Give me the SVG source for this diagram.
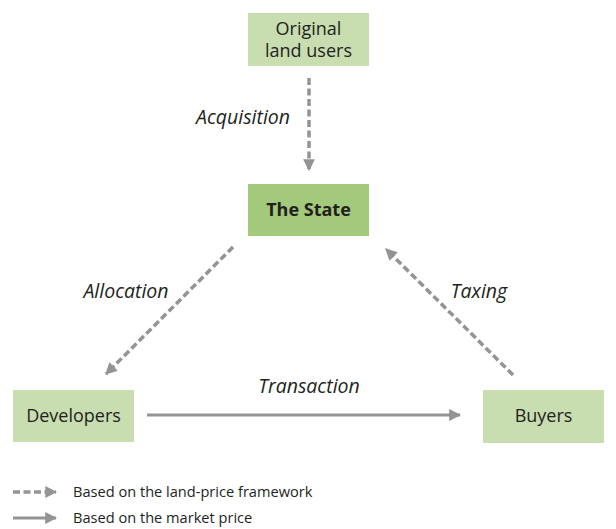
<svg xmlns="http://www.w3.org/2000/svg" width="616" height="529" viewBox="0 0 616 529">
  <style>
    .box { fill: #c8ddb0; }
    .state { fill: #a3c97a; }
    .lbl { font-family: "Open Sans", "Noto Sans", sans-serif; font-size: 18px; fill: #231f20; text-anchor: middle; }
    .it { font-family: "Open Sans", "Noto Sans", sans-serif; font-size: 19.5px; font-style: italic; fill: #231f20; text-anchor: middle; }
    .leg { font-family: "Open Sans", "Noto Sans", sans-serif; font-size: 14.6px; fill: #231f20; }
    .dash { stroke: #949494; stroke-width: 3.5; stroke-dasharray: 7 3.5; fill: none; }
    .solid { stroke: #949494; stroke-width: 3; fill: none; }
  </style>
  <defs>
    <marker id="ah" viewBox="0 0 10 10" refX="9" refY="5" markerWidth="3.4" markerHeight="3.4" markerUnits="strokeWidth" orient="auto">
      <path d="M0,0 L10,5 L0,10 z" fill="#949494"/>
    </marker>
    <marker id="ahs" viewBox="0 0 10 10" refX="9" refY="5" markerWidth="4" markerHeight="4" markerUnits="strokeWidth" orient="auto">
      <path d="M0,0 L10,5 L0,10 z" fill="#949494"/>
    </marker>
  </defs>

  <g id="connectors">
    <line class="dash" x1="309" y1="78" x2="309" y2="170" marker-end="url(#ah)"/>
    <line class="dash" x1="233" y1="247" x2="106" y2="374" marker-end="url(#ah)"/>
    <line class="dash" x1="513" y1="375" x2="386" y2="249" marker-end="url(#ah)"/>
    <line class="solid" x1="147" y1="415" x2="460" y2="415" marker-end="url(#ahs)"/>
    <text class="it" x="243" y="124">Acquisition</text>
    <text class="it" x="126" y="298">Allocation</text>
    <text class="it" x="479" y="298">Taxing</text>
    <text class="it" x="309" y="393">Transaction</text>
  </g>

  <g id="original-land-users">
    <rect class="box" x="248" y="13" width="121" height="53"/>
    <text class="lbl" x="308.5" y="35">Original</text>
    <text class="lbl" x="308.5" y="57">land users</text>
  </g>

  <g id="the-state">
    <rect class="state" x="248" y="184" width="121" height="52"/>
    <text class="lbl" x="308.5" y="216" font-weight="bold">The State</text>
  </g>

  <g id="developers">
    <rect class="box" x="13" y="390" width="121" height="52"/>
    <text class="lbl" x="73.5" y="422">Developers</text>
  </g>

  <g id="buyers">
    <rect class="box" x="483" y="390" width="121" height="53"/>
    <text class="lbl" x="543.5" y="422">Buyers</text>
  </g>

  <g id="legend">
    <line class="dash" x1="13" y1="492" x2="56" y2="492" stroke-width="3" marker-end="url(#ah)"/>
    <line class="solid" x1="13" y1="518" x2="56" y2="518" marker-end="url(#ahs)"/>
    <text class="leg" x="73" y="497">Based on the land-price framework</text>
    <text class="leg" x="73" y="523">Based on the market price</text>
  </g>
</svg>
